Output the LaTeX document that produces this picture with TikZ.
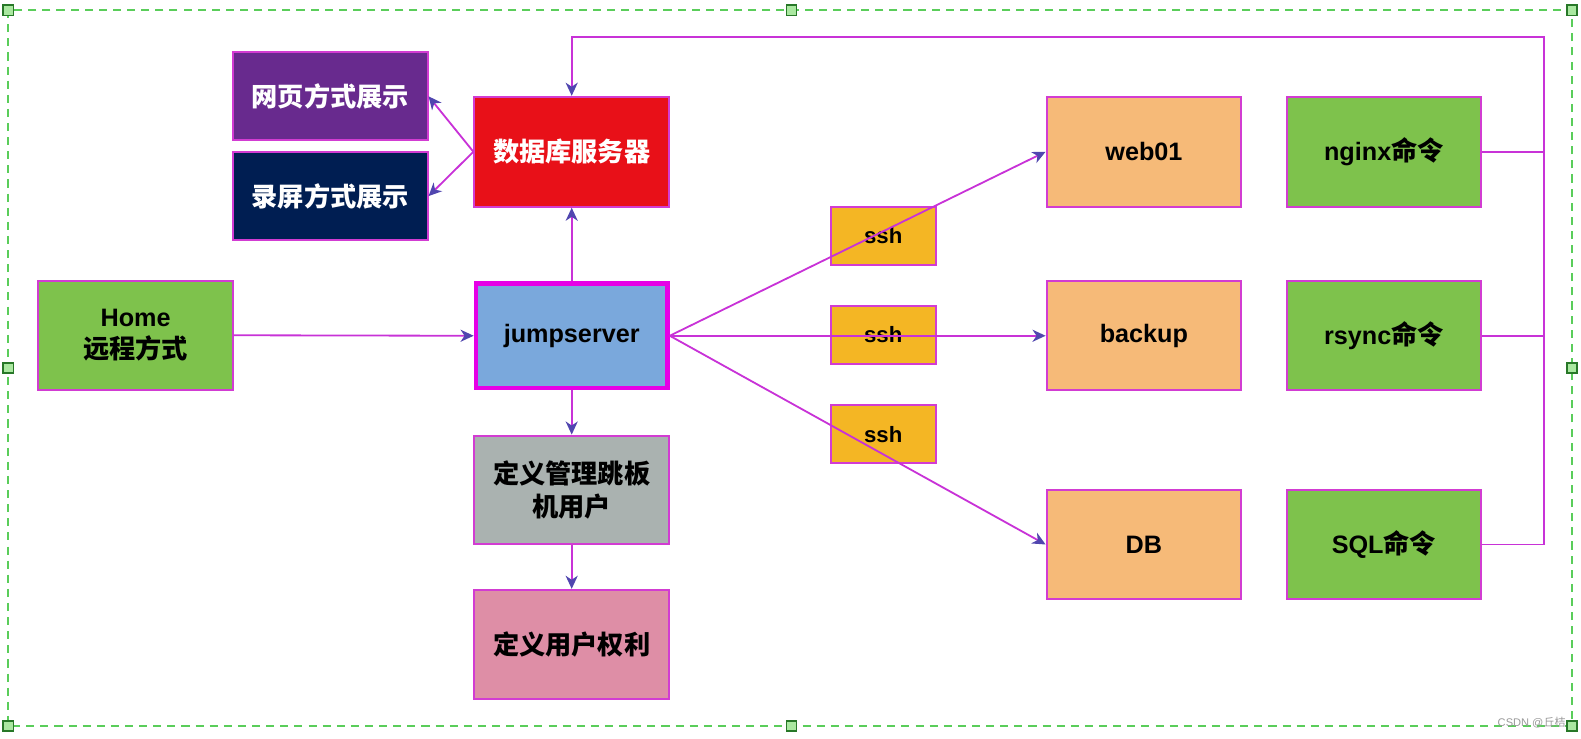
\documentclass[tikz,border=0pt]{standalone}
\usepackage{fontspec}
\setmainfont{Liberation Sans}
\newfontfamily\cjk{Noto Sans CJK SC}
\usetikzlibrary{arrows.meta}
\definecolor{linecol}{RGB}{200,50,215}
\definecolor{tipcol}{RGB}{80,70,175}
\definecolor{bordercol}{RGB}{210,60,210}
\definecolor{jumpborder}{RGB}{230,0,230}
\definecolor{purplebox}{RGB}{104,42,142}
\definecolor{navybox}{RGB}{0,30,82}
\definecolor{redbox}{RGB}{232,16,24}
\definecolor{greenbox}{RGB}{126,194,76}
\definecolor{bluebox}{RGB}{122,168,220}
\definecolor{graybox}{RGB}{170,178,176}
\definecolor{pinkbox}{RGB}{222,142,166}
\definecolor{sshbox}{RGB}{244,182,36}
\definecolor{orangebox}{RGB}{246,186,120}
\definecolor{dashgreen}{RGB}{90,205,90}
\definecolor{handlefill}{RGB}{170,232,160}
\definecolor{handledraw}{RGB}{40,120,40}
\newcommand\zh[1]{{\cjk\fontsize{26}{32}\selectfont #1}}
\tikzset{
  box/.style={draw=bordercol, line width=2pt, minimum width=193pt, minimum height=108pt,
    font=\fontsize{25}{32}\selectfont\bfseries, align=center, inner sep=0pt, text=black},
  whitetext/.style={text=white},
  conn/.style={draw=linecol, line width=1.8pt},
  arr/.style={conn, -{Stealth[length=13pt,width=12pt,inset=4pt,color=tipcol]}},
  handle/.style={draw=handledraw, fill=handlefill, line width=1.2pt, minimum size=10pt, inner sep=0pt}
}
\begin{document}
\begin{tikzpicture}[x=1pt,y=-1pt]
\useasboundingbox (0,0) rectangle (1568,732);
% selection frame
\draw[dashgreen, line width=2pt, dash pattern=on 8pt off 6pt] (8,10) rectangle (1559,720);
\foreach \p/\n in {{(8,10)}/h1,{(785,10)}/h2,{(1559,10)}/h3,{(8,365)}/h4,{(1559,365)}/h5,{(8,720)}/h6,{(785,720)}/h7,{(1559,720)}/h8}
  \node[handle] (\n) at \p {};

% nodes
\node[box, fill=purplebox, whitetext, minimum height=87pt] (web) at (327.5,95.5) {\zh{网页方式展示}};
\node[box, fill=navybox, whitetext, minimum height=87pt] (rec) at (327.5,194.5) {\zh{录屏方式展示}};
\node[box, fill=redbox, whitetext, minimum height=109pt] (dbs) at (567,150.5) {\zh{数据库服务器}};
\node[box, fill=greenbox] (home) at (134.5,332.5) {Home\\\zh{远程方式}};
\node[box, fill=bluebox, draw=jumpborder, line width=4.5pt, minimum width=190pt, minimum height=104pt] (jump) at (567,333) {jumpserver};
\node[box, fill=graybox] (mgr) at (567,486) {\zh{定义管理跳板}\\\zh{机用户}};
\node[box, fill=pinkbox] (usr) at (567,639) {\zh{定义用户权利}};

\node[box, fill=sshbox, minimum width=104pt, minimum height=58pt, font=\fontsize{22}{26}\selectfont\bfseries] (ssh1) at (876,234) {ssh};
\node[box, fill=sshbox, minimum width=104pt, minimum height=58pt, font=\fontsize{22}{26}\selectfont\bfseries] (ssh2) at (876,332) {ssh};
\node[box, fill=sshbox, minimum width=104pt, minimum height=58pt, font=\fontsize{22}{26}\selectfont\bfseries] (ssh3) at (876,430.5) {ssh};

\node[box, fill=orangebox, minimum height=109pt] (web01) at (1134.5,150.5) {web01};
\node[box, fill=orangebox] (backup) at (1134.5,333) {backup};
\node[box, fill=orangebox] (db) at (1134.5,540) {DB};

\node[box, fill=greenbox, minimum height=109pt] (nginx) at (1372.5,150.5) {nginx\zh{命令}};
\node[box, fill=greenbox] (rsync) at (1372.5,333) {rsync\zh{命令}};
\node[box, fill=greenbox] (sql) at (1372.5,540) {SQL\zh{命令}};

% connectors
\draw[arr] (home.east) -- (jump.west);
\draw[arr] (jump.north) -- (dbs.south);
\draw[arr] (dbs.west) -- (web.east);
\draw[arr] (dbs.west) -- (rec.east);
\draw[arr] (jump.south) -- (mgr.north);
\draw[arr] (mgr.south) -- (usr.north);
\draw[arr] (jump.east) -- (web01.west);
\draw[arr] (jump.east) -- (backup.west);
\draw[arr] (jump.east) -- (db.west);

\coordinate (rt) at (1531,37);
\coordinate (lt) at (567,37);
\draw[conn] (nginx.east) -- (nginx.east -| rt);
\draw[conn] (rsync.east) -- (rsync.east -| rt);
\draw[arr] (sql.east) -| (rt) -- (lt) -- (dbs.north);

% watermark
\node[text=gray!80, font=\fontsize{11}{13}\selectfont, anchor=east, inner sep=0pt] (wm) at (1553,717) {CSDN @{\cjk 丘桔}};
\end{tikzpicture}
\end{document}
